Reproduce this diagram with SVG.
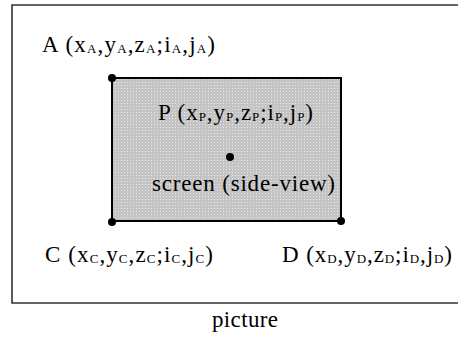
<svg xmlns="http://www.w3.org/2000/svg" width="458" height="338" viewBox="0 0 458 338">
<style>
  .t { font-family: "Liberation Serif", "Times New Roman", serif; font-size: 23px; fill: #000; }
  .s { font-size: 13px; }
  .dot { fill: #000; }
</style>
<defs>
  <pattern id="dots" width="3" height="3" patternUnits="userSpaceOnUse">
    <rect width="3" height="3" fill="#c4c4c4"/>
    <rect x="1" y="1" width="1" height="1" fill="#e6e6e6"/>
  </pattern>
</defs>
<rect width="458" height="338" fill="#fff"/>
<g id="frame">
  <path d="M 470 5 L 12 5 L 12 303 L 470 303" fill="none" stroke="#333" stroke-width="1.6"/>
</g>
<g id="screen">
  <rect x="112" y="78" width="229" height="143" fill="url(#dots)" stroke="#000" stroke-width="2"/>
  <text class="t" x="152" y="191" textLength="183">screen (side-view)</text>
</g>
<g id="connectors"></g>
<g id="pointA">
  <circle class="dot" cx="112" cy="78" r="4"/>
  <text class="t" x="42" y="52" textLength="173">A (x<tspan class="s" dy="1">A</tspan><tspan dy="-1">,y</tspan><tspan class="s" dy="1">A</tspan><tspan dy="-1">,z</tspan><tspan class="s" dy="1">A</tspan><tspan dy="-1">;i</tspan><tspan class="s" dy="1">A</tspan><tspan dy="-1">,j</tspan><tspan class="s" dy="1">A</tspan><tspan dy="-1">)</tspan></text>
</g>
<g id="pointP">
  <circle class="dot" cx="230" cy="157" r="4"/>
  <text class="t" x="158" y="120" textLength="155">P (x<tspan class="s" dy="1">P</tspan><tspan dy="-1">,y</tspan><tspan class="s" dy="1">P</tspan><tspan dy="-1">,z</tspan><tspan class="s" dy="1">P</tspan><tspan dy="-1">;i</tspan><tspan class="s" dy="1">P</tspan><tspan dy="-1">,j</tspan><tspan class="s" dy="1">P</tspan><tspan dy="-1">)</tspan></text>
</g>
<g id="pointC">
  <circle class="dot" cx="112" cy="222" r="4"/>
  <text class="t" x="45" y="262" textLength="168">C (x<tspan class="s" dy="1">C</tspan><tspan dy="-1">,y</tspan><tspan class="s" dy="1">C</tspan><tspan dy="-1">,z</tspan><tspan class="s" dy="1">C</tspan><tspan dy="-1">;i</tspan><tspan class="s" dy="1">C</tspan><tspan dy="-1">,j</tspan><tspan class="s" dy="1">C</tspan><tspan dy="-1">)</tspan></text>
</g>
<g id="pointD">
  <circle class="dot" cx="341" cy="221" r="4"/>
  <text class="t" x="282" y="262" textLength="170">D (x<tspan class="s" dy="1">D</tspan><tspan dy="-1">,y</tspan><tspan class="s" dy="1">D</tspan><tspan dy="-1">,z</tspan><tspan class="s" dy="1">D</tspan><tspan dy="-1">;i</tspan><tspan class="s" dy="1">D</tspan><tspan dy="-1">,j</tspan><tspan class="s" dy="1">D</tspan><tspan dy="-1">)</tspan></text>
</g>
<g id="caption">
  <text class="t" x="212" y="327" textLength="66">picture</text>
</g>
</svg>
